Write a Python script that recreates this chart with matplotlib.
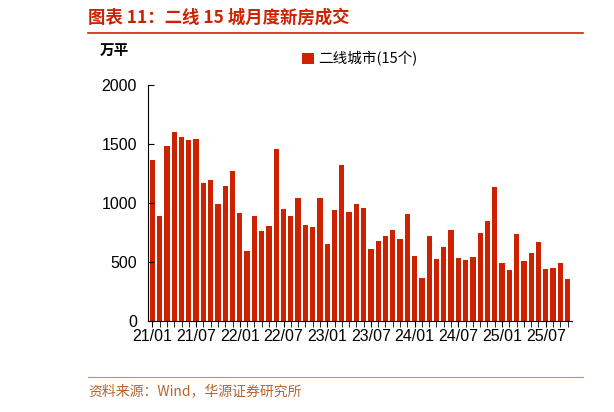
import matplotlib.pyplot as plt
import numpy as np

plt.rcParams['font.family'] = ['Liberation Sans', 'Noto Sans CJK SC', 'DejaVu Sans']

# 二线 15 城月度新房成交（万平），2021/01 - 2025/10
values = [1367, 890, 1486, 1599, 1562, 1531, 1542, 1172, 1195, 992, 1147, 1274,
          915, 590, 887, 763, 808, 1460, 946, 890, 1045, 816, 794, 1045,
          655, 938, 1319, 921, 989, 958, 613, 678, 720, 768, 695, 907,
          548, 364, 720, 525, 624, 774, 534, 520, 545, 743, 847, 1136,
          494, 435, 740, 506, 576, 667, 444, 449, 489, 356]
tick_labels = ['21/01', '21/07', '22/01', '22/07', '23/01', '23/07',
               '24/01', '24/07', '25/01', '25/07']

red = '#CC2200'
cjk = ['Noto Sans CJK SC', 'DejaVu Sans']
fig = plt.figure(figsize=(6.14, 4.12), dpi=100)
ax = fig.add_axes([148 / 614, 1 - 321 / 412, 424 / 614, 236 / 412])

x = np.arange(len(values))
ax.bar(x, values, width=0.72, color=red, label='二线城市(15个)')
ax.set_xlim(-0.6, len(values) - 0.4)
ax.set_ylim(0, 2000)
ax.set_yticks([0, 500, 1000, 1500, 2000])
ax.set_xticks(x, minor=True)
ax.set_xticks(x[::6])
ax.set_xticklabels(tick_labels)
ax.tick_params(axis='x', which='both', direction='out', length=4, labelsize=11.5, pad=2)
ax.tick_params(axis='y', direction='in', length=4, labelsize=11.5, pad=8)
for s in ['top', 'right']:
    ax.spines[s].set_visible(False)
ax.legend(loc='upper center', bbox_to_anchor=(0.5, 1.2), frameon=False,
          fontsize=10.5, handlelength=0.8, handleheight=0.8, handletextpad=0.3,
          prop={'family': cjk, 'size': 10.5})

fig.text(100 / 614, 1 - 50 / 412, '万平', fontsize=10.5, fontweight='bold', va='center', family=cjk)
fig.text(88 / 614, 1 - 18 / 412, '图表 11：二线 15 城月度新房成交', fontsize=12.5,
         fontweight='bold', color=red, va='center', family=cjk)
fig.add_artist(plt.Line2D([88 / 614, 583 / 614], [1 - 33 / 412] * 2, color=red, lw=1.2))
fig.add_artist(plt.Line2D([88 / 614, 583 / 614], [1 - 377 / 412] * 2, color='#C89070', lw=0.8))
fig.text(88 / 614, 1 - 391 / 412, '资料来源：Wind，华源证券研究所', fontsize=10,
         color='#B5652D', va='center', family=cjk)

fig.savefig('out.png', dpi=100)
